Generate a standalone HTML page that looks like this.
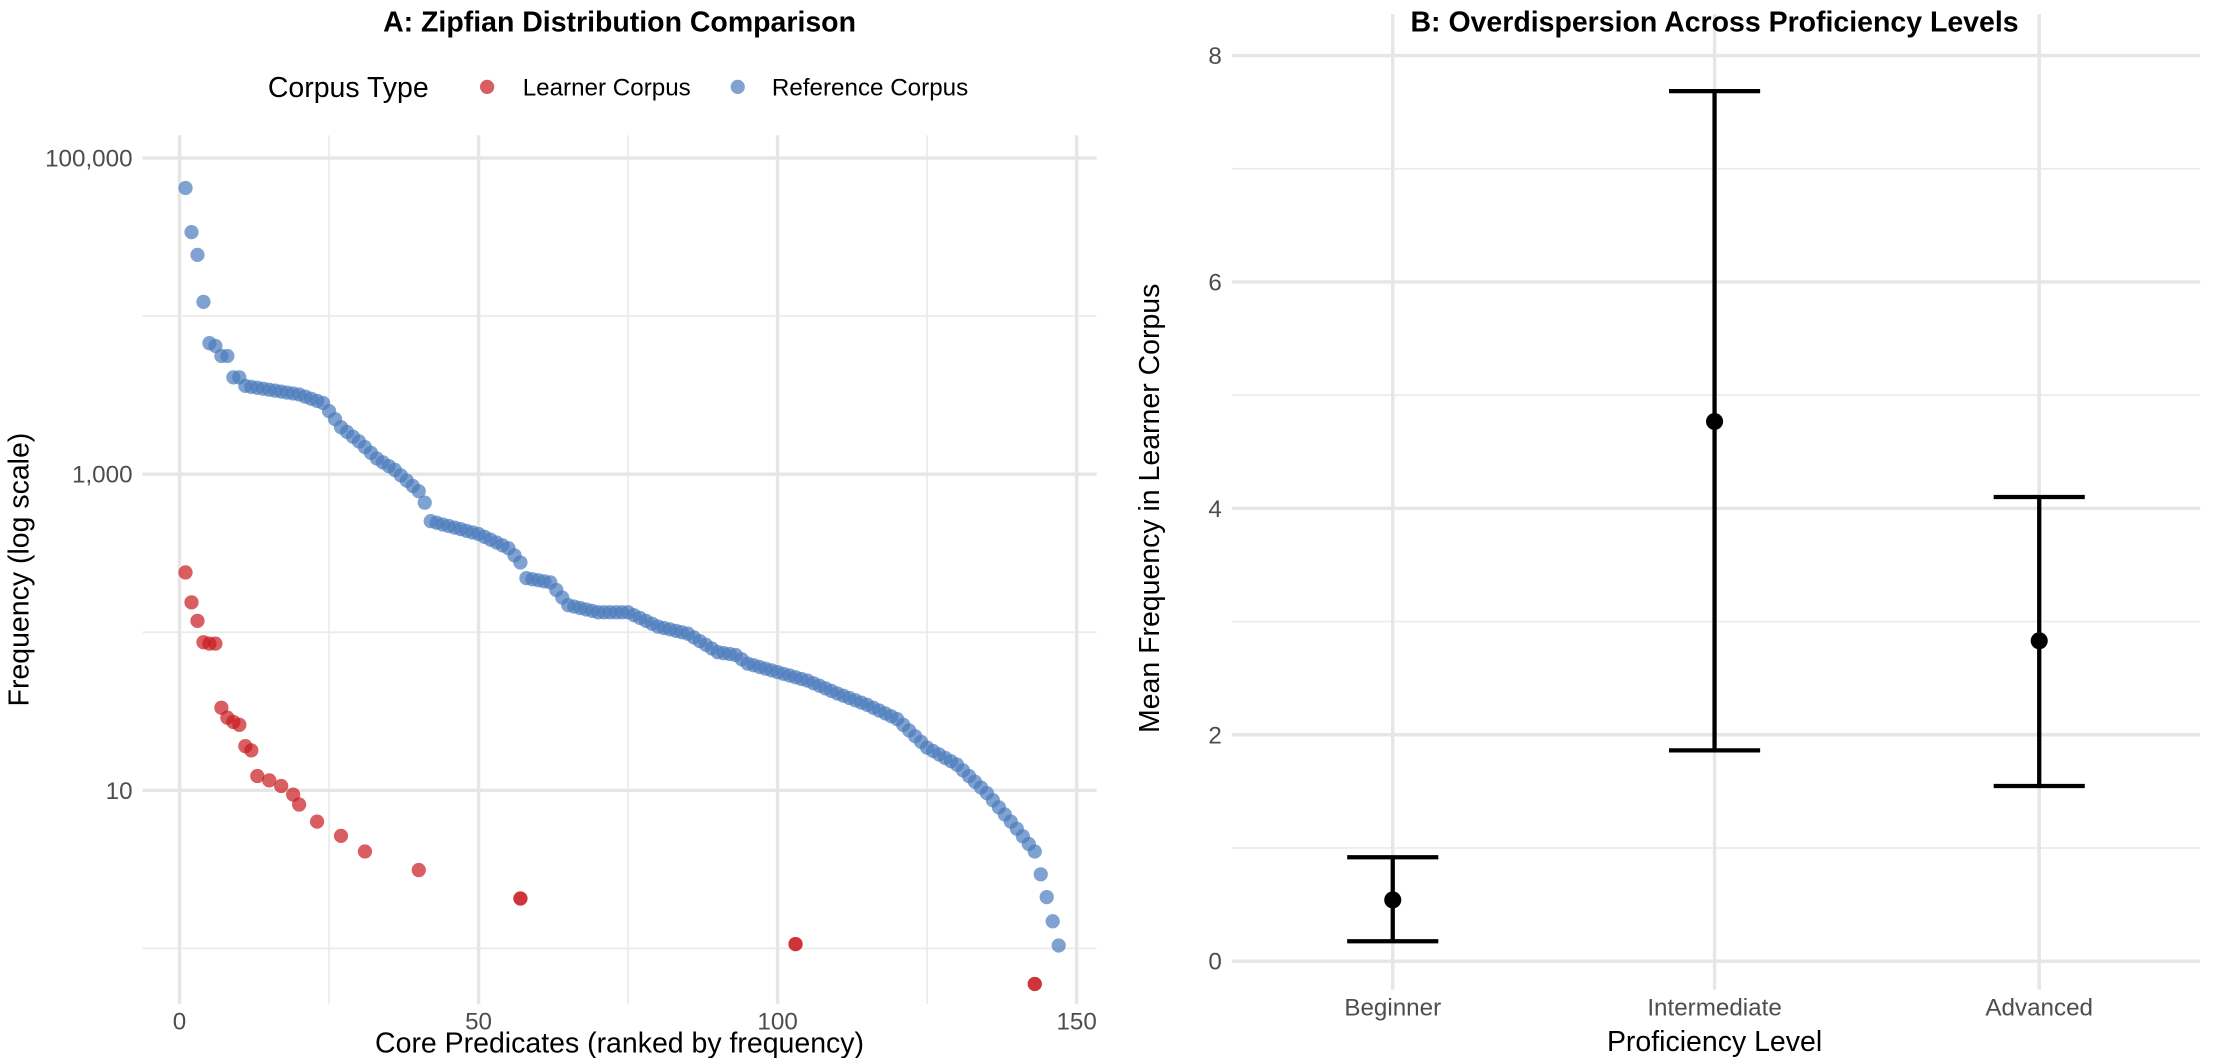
<!DOCTYPE html>
<html><head><meta charset="utf-8"><style>
body{margin:0;background:#fff}
svg{display:block}
svg text{font-family:"Liberation Sans",Arial,sans-serif}
</style></head><body>
<svg id="s" width="2233" height="1058" viewBox="0 0 1568 743" xmlns="http://www.w3.org/2000/svg">
<rect width="1568" height="743" fill="#fff"/>
<g stroke="#ebebeb" stroke-width="1.2">
<line x1="100" x2="770" y1="222" y2="222"/><line x1="100" x2="770" y1="444" y2="444"/>
<line x1="100" x2="770" y1="666" y2="666"/>
<line x1="231" x2="231" y1="95" y2="705"/><line x1="441" x2="441" y1="95" y2="705"/><line x1="651" x2="651" y1="95" y2="705"/>
</g>
<g stroke="#e6e6e6" stroke-width="2.4">
<line x1="100" x2="770" y1="111" y2="111"/><line x1="100" x2="770" y1="333" y2="333"/><line x1="100" x2="770" y1="555" y2="555"/>
<line x1="126" x2="126" y1="95" y2="705"/><line x1="336" x2="336" y1="95" y2="705"/><line x1="546" x2="546" y1="95" y2="705"/><line x1="756" x2="756" y1="95" y2="705"/>
</g>
<g id="pts"></g>
<g font-size="17" fill="#4d4d4d" text-anchor="end">
<text x="93" y="117">100,000</text><text x="93" y="339">1,000</text><text x="93" y="561">10</text>
</g>
<g font-size="17" fill="#4d4d4d" text-anchor="middle">
<text x="126" y="723">0</text><text x="336" y="723">50</text><text x="546" y="723">100</text><text x="756" y="723">150</text>
</g>
<text x="435" y="739" font-size="20" text-anchor="middle">Core Predicates (ranked by frequency)</text>
<text transform="translate(20,400) rotate(-90)" font-size="20" text-anchor="middle">Frequency (log scale)</text>
<text x="435" y="22" font-size="20" font-weight="bold" text-anchor="middle">A: Zipfian Distribution Comparison</text>
<text x="188" y="68" font-size="20">Corpus Type</text>
<circle cx="342" cy="61" r="5" fill="#c8191e" fill-opacity="0.7"/>
<text x="367" y="67" font-size="17">Learner Corpus</text>
<circle cx="518" cy="61" r="5" fill="#4a7abc" fill-opacity="0.7"/>
<text x="542" y="67" font-size="17">Reference Corpus</text>

<g stroke="#ebebeb" stroke-width="1.2">
<line x1="865" x2="1545" y1="118.5" y2="118.5"/><line x1="865" x2="1545" y1="277.5" y2="277.5"/>
<line x1="865" x2="1545" y1="436.5" y2="436.5"/><line x1="865" x2="1545" y1="595.5" y2="595.5"/>
</g>
<g stroke="#e6e6e6" stroke-width="2.4">
<line x1="865" x2="1545" y1="39" y2="39"/><line x1="865" x2="1545" y1="198" y2="198"/><line x1="865" x2="1545" y1="357" y2="357"/>
<line x1="865" x2="1545" y1="516" y2="516"/><line x1="865" x2="1545" y1="675" y2="675"/>
<line x1="978" x2="978" y1="10" y2="695"/><line x1="1204" x2="1204" y1="10" y2="695"/><line x1="1432" x2="1432" y1="10" y2="695"/>
</g>
<g stroke="#000" stroke-width="3" fill="none">
<line x1="978" x2="978" y1="602" y2="661"/><line x1="946" x2="1010" y1="602" y2="602"/><line x1="946" x2="1010" y1="661" y2="661"/>
<line x1="1204" x2="1204" y1="64" y2="527"/><line x1="1172" x2="1236" y1="64" y2="64"/><line x1="1172" x2="1236" y1="527" y2="527"/>
<line x1="1432" x2="1432" y1="349" y2="552"/><line x1="1400" x2="1464" y1="349" y2="349"/><line x1="1400" x2="1464" y1="552" y2="552"/>
</g>
<circle cx="978" cy="632" r="6" fill="#000"/><circle cx="1204" cy="296" r="6" fill="#000"/><circle cx="1432" cy="450" r="6" fill="#000"/>
<g font-size="17" fill="#4d4d4d" text-anchor="end">
<text x="858" y="45">8</text><text x="858" y="204">6</text><text x="858" y="363">4</text><text x="858" y="522">2</text><text x="858" y="681">0</text>
</g>
<g font-size="17" fill="#4d4d4d" text-anchor="middle">
<text x="978" y="713">Beginner</text><text x="1204" y="713">Intermediate</text><text x="1432" y="713">Advanced</text>
</g>
<text x="1204" y="738" font-size="20" text-anchor="middle">Proficiency Level</text>
<text transform="translate(814,357) rotate(-90)" font-size="20" text-anchor="middle">Mean Frequency in Learner Corpus</text>
<text x="1204" y="22" font-size="20" font-weight="bold" text-anchor="middle">B: Overdispersion Across Proficiency Levels</text>
</svg>
<script>
function interp(a,r){for(var i=0;i<a.length-1;i++){if(r>=a[i][0]&&r<=a[i+1][0]){var t=(r-a[i][0])/(a[i+1][0]-a[i][0]);return a[i][1]+t*(a[i+1][1]-a[i][1]);}}return a[a.length-1][1];}
var blue=[[1,132],[2,163],[3,179],[4,212],[5,241],[6,243],[7,250],[8,250],[9,265],[10,265],[11,271],[20,277],[24,283],[27,300],[30,310],[33,322],[36,330],[40,345],[41,353],[42,366],[50,375],[55,385],[57,395],[58,406],[62,409],[65,425],[70,430],[75,430],[80,440],[85,445],[90,458],[93,460],[95,466],[100,472],[105,478],[110,487],[115,495],[120,505],[125,525],[130,537],[135,557],[140,582],[143,598],[145,630],[147,664]];
var red=[[1,402],[2,423],[3,436],[4,451],[5,452],[6,452],[7,497],[8,504],[9,507],[10,509],[11,524],[12,527],[13,545],[15,548],[17,552],[19,558],[20,565],[23,577],[27,587],[31,598],[40,611],[57,631],[103,663],[143,691]];
var g=document.getElementById('pts'),h='';
for(var r=1;r<=147;r++){h+='<circle cx="'+(126+4.2*r)+'" cy="'+interp(blue,r).toFixed(1)+'" r="5" fill="#4a7abc" fill-opacity="0.7"/>';}
red.forEach(function(p){h+='<circle cx="'+(126+4.2*p[0])+'" cy="'+p[1]+'" r="5" fill="#c8191e" fill-opacity="0.7"/>';});
[[103,663],[143,691],[57,631]].forEach(function(p){h+='<circle cx="'+(126+4.2*p[0])+'" cy="'+p[1]+'" r="5" fill="#c8191e" fill-opacity="0.6"/>';});
g.innerHTML=h;
</script>
</body></html>
